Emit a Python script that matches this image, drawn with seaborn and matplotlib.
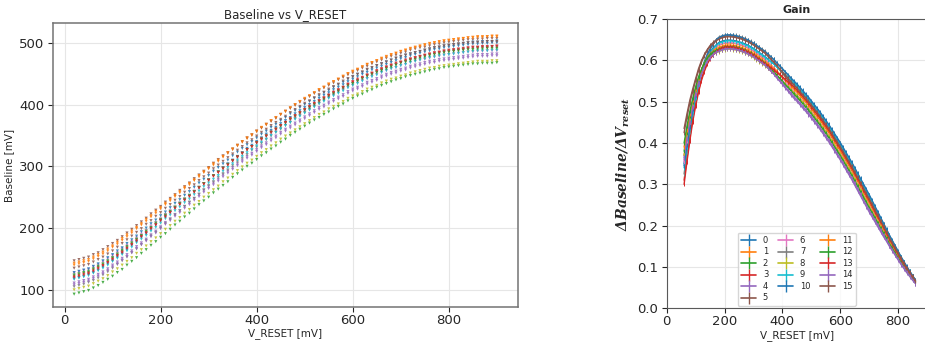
import numpy as np
import pandas as pd
import matplotlib
matplotlib.use('Agg')
import matplotlib.pyplot as plt
import seaborn as sns
from matplotlib.lines import Line2D

# V_RESET sweep [mV]
v_reset = np.arange(20, 910, 10)
v_gain = np.arange(60, 870, 10)
channels = [str(i) for i in range(16)]

# baseline [mV] per channel, one value per V_RESET step
base_00 = [118,120,122,125,128,132,137,142,147,153,159,165,172,178,185,191,198,205,212,218,225,232,239,245,252,259,265,272,278,285,291,298,304,310,316,322,329,334,340,346,352,358,363,369,374,379,385,390,395,400,405,410,415,419,424,428,432,437,441,445,449,452,456,459,462,465,468,471,474,476,479,481,483,485,487,489,490,492,493,494,495,496,497,498,498,499,499,500,500]
base_01 = [140,142,144,146,150,154,158,163,169,174,180,186,192,199,205,211,218,224,231,238,244,251,257,264,270,277,283,290,296,302,308,315,321,327,333,339,345,350,356,362,367,373,378,384,389,394,399,404,409,414,419,424,428,433,437,441,445,450,454,457,461,465,468,471,475,478,481,483,486,488,491,493,495,497,499,500,502,503,504,505,506,507,508,509,510,510,510,511,511]
base_02 = [93,95,97,99,103,107,112,117,122,128,133,140,146,152,159,165,172,178,185,191,198,205,211,218,224,231,238,244,250,257,263,269,275,282,288,294,300,305,311,317,322,328,333,339,344,350,355,360,365,370,375,379,384,388,393,397,401,406,410,414,417,421,424,428,431,434,437,440,442,445,447,449,451,453,455,457,458,460,461,462,463,464,465,466,466,467,467,467,468]
base_03 = [122,124,126,128,132,136,140,145,151,156,162,168,174,181,187,193,200,206,213,220,226,233,239,246,252,259,265,272,278,284,290,297,303,309,315,321,327,332,338,344,349,355,360,366,371,376,381,386,391,396,401,406,410,415,419,423,427,432,436,439,443,447,450,453,457,460,463,465,468,470,473,475,477,479,481,482,484,485,486,487,488,489,490,491,492,492,492,493,493]
base_04 = [111,113,115,117,121,125,129,134,140,145,151,157,163,170,176,182,189,195,202,209,215,222,228,235,241,248,254,261,267,273,279,286,292,298,304,310,316,321,327,333,338,344,349,355,360,365,370,375,380,385,390,395,399,404,408,412,416,421,425,428,432,436,439,442,446,449,452,454,457,459,462,464,466,468,470,471,473,474,475,476,477,478,479,480,481,481,481,482,482]
base_05 = [147,149,151,153,157,160,165,170,175,180,186,192,198,204,210,216,223,229,235,242,248,254,261,267,273,280,286,292,298,305,311,317,322,328,334,340,346,351,357,362,368,373,378,384,389,394,399,404,408,413,418,422,427,431,435,440,444,448,451,455,459,462,466,469,472,475,478,480,483,485,488,490,492,493,495,497,498,500,501,502,503,504,505,505,506,506,507,507,507]
base_06 = [127,129,131,133,137,140,145,150,155,160,166,172,178,184,190,196,203,209,215,222,228,234,241,247,253,260,266,272,278,285,291,297,302,308,314,320,326,331,337,342,348,353,358,364,369,374,379,384,388,393,398,402,407,411,415,420,424,428,431,435,439,442,446,449,452,455,458,460,463,465,468,470,472,473,475,477,478,480,481,482,483,484,485,485,486,486,487,487,487]
base_07 = [105,107,109,112,115,119,124,129,135,141,147,153,160,166,173,180,187,193,200,207,214,221,228,235,242,248,255,262,269,275,282,288,294,301,307,313,319,326,331,337,343,349,355,360,366,371,377,382,387,392,397,402,407,412,416,421,425,430,434,438,442,446,449,453,456,459,462,465,468,470,473,475,477,479,481,483,484,486,487,488,489,490,491,492,492,493,493,494,494]
base_08 = [100,102,104,106,110,114,118,123,129,134,140,146,152,159,165,171,178,184,191,198,204,211,217,224,230,237,243,250,256,262,268,275,281,287,293,299,305,310,316,322,327,333,338,344,349,354,359,364,369,374,379,384,388,393,397,401,405,410,414,417,421,425,428,431,435,438,441,443,446,448,451,453,455,457,459,460,462,463,464,465,466,467,468,469,470,470,470,471,471]
base_09 = [117,119,121,123,127,131,135,140,146,151,157,163,169,176,182,188,195,201,208,215,221,228,234,241,247,254,260,267,273,279,285,292,298,304,310,316,322,327,333,339,344,350,355,361,366,371,376,381,386,391,396,401,405,410,414,418,422,427,431,434,438,442,445,448,452,455,458,460,463,465,468,470,472,474,476,477,479,480,481,482,483,484,485,486,487,487,487,488,488]
base_10 = [128,130,132,134,138,142,147,152,157,163,168,175,181,187,194,200,207,213,220,226,233,240,246,253,259,266,273,279,285,292,298,304,310,317,323,329,335,340,346,352,357,363,368,374,379,385,390,395,400,405,410,414,419,423,428,432,436,441,445,449,452,456,459,463,466,469,472,475,477,480,482,484,486,488,490,492,493,495,496,497,498,499,500,501,501,502,502,502,503]
base_11 = [143,145,147,149,153,157,161,166,171,177,183,189,195,201,207,214,220,227,233,240,246,253,259,266,272,278,285,291,297,304,310,316,322,328,334,340,346,351,357,363,368,374,379,384,389,395,400,405,410,414,419,424,428,433,437,441,446,450,453,457,461,465,468,471,474,477,480,483,486,488,490,492,494,496,498,500,501,503,504,505,506,507,508,508,509,509,510,510,510]
base_12 = [124,126,128,130,134,138,142,147,152,158,164,170,176,182,188,195,201,208,214,221,227,234,240,247,253,259,266,272,278,285,291,297,303,309,315,321,327,332,338,344,349,355,360,365,370,376,381,386,391,395,400,405,409,414,418,422,427,431,434,438,442,446,449,452,455,458,461,464,467,469,471,473,475,477,479,481,482,484,485,486,487,488,489,489,490,490,491,491,491]
base_13 = [120,122,124,126,130,134,139,144,149,155,160,167,173,179,186,192,199,205,212,218,225,232,238,245,251,258,265,271,277,284,290,296,302,309,315,321,327,332,338,344,349,355,360,366,371,377,382,387,392,397,402,406,411,415,420,424,428,433,437,441,444,448,451,455,458,461,464,467,469,472,474,476,478,480,482,484,485,487,488,489,490,491,492,493,493,494,494,494,495]
base_14 = [108,110,112,114,118,122,126,131,137,142,148,154,160,167,173,179,186,192,199,206,212,219,225,232,238,245,251,258,264,270,276,283,289,295,301,307,313,318,324,330,335,341,346,352,357,362,367,372,377,382,387,392,396,401,405,409,413,418,422,425,429,433,436,439,443,446,449,451,454,456,459,461,463,465,467,468,470,471,472,473,474,475,476,477,478,478,478,479,479]
base_15 = [135,137,139,141,145,149,153,158,163,169,175,181,187,193,199,206,212,219,225,232,238,245,251,258,264,270,277,283,289,296,302,308,314,320,326,332,338,343,349,355,360,366,371,376,381,387,392,397,402,406,411,416,420,425,429,433,438,442,445,449,453,457,460,463,466,469,472,475,478,480,482,484,486,488,490,492,493,495,496,497,498,499,500,500,501,501,502,502,502]

# gain dBaseline/dV_reset per channel, in 1/1000, one value per step from 60 to 860 mV
gain_00 = [350,399,443,483,516,547,572,592,608,620,630,637,643,646,648,649,649,648,647,645,643,640,637,633,629,624,619,614,609,603,597,592,585,578,571,564,558,551,544,537,529,521,513,505,496,487,478,469,459,449,439,428,417,406,395,383,371,359,347,334,321,308,295,282,269,255,242,228,214,201,187,173,160,148,135,122,111,99,88,78,67]
gain_01 = [370,415,457,493,524,552,574,593,607,618,625,632,636,639,641,642,642,641,640,638,636,633,630,626,622,617,612,607,602,595,589,582,575,567,560,552,545,537,530,523,515,507,499,491,482,473,464,455,445,435,425,414,403,392,381,369,357,345,333,320,307,294,281,268,255,242,229,216,203,190,177,164,152,140,128,116,105,94,84,74,64]
gain_02 = [380,424,462,497,527,552,573,589,601,611,617,622,625,628,630,631,631,630,629,627,625,622,619,615,611,606,601,596,591,585,578,572,564,557,550,542,535,527,520,513,505,497,489,481,472,463,454,445,435,425,415,404,393,382,371,359,347,335,323,310,297,284,271,258,245,232,220,207,195,182,170,157,146,134,123,111,101,90,81,71,62]
gain_03 = [310,364,414,459,495,528,555,576,594,606,615,622,628,631,633,634,634,633,632,630,628,625,622,618,614,609,604,599,594,589,583,578,571,565,559,552,546,539,533,526,518,510,502,494,485,476,467,458,448,438,428,417,406,395,384,372,360,348,336,323,310,297,284,271,258,245,232,219,205,192,179,166,154,142,130,117,106,95,85,75,65]
gain_04 = [360,406,448,485,516,544,566,584,598,607,614,620,623,626,628,629,629,628,627,625,623,620,617,613,609,604,599,594,589,582,574,567,558,550,542,533,525,516,508,501,493,485,477,469,460,451,442,433,423,413,403,392,381,370,359,347,335,323,311,298,285,272,259,246,233,221,209,197,185,173,162,150,139,128,117,106,96,86,77,68,60]
gain_05 = [435,471,504,531,556,580,599,614,626,636,643,649,653,656,658,659,659,658,657,655,653,650,647,643,639,634,629,624,619,611,603,596,587,578,569,560,552,543,534,527,519,511,503,495,486,477,468,459,449,439,429,418,407,396,385,373,361,349,337,324,311,298,285,272,259,246,233,219,206,193,180,167,154,142,130,118,107,95,85,75,65]
gain_06 = [355,402,446,485,517,547,570,590,606,616,625,632,637,640,642,643,643,642,641,639,637,634,631,627,623,618,613,608,603,596,589,581,573,565,557,549,540,532,524,517,509,501,493,485,476,467,458,449,439,429,419,408,397,386,375,363,351,339,327,314,301,288,275,262,249,236,224,211,198,185,173,160,148,137,125,113,103,92,82,72,63]
gain_07 = [325,378,427,471,508,542,570,594,613,627,638,649,656,659,661,662,662,661,660,658,656,653,650,646,642,637,632,627,622,615,609,602,594,587,579,571,563,556,548,541,533,525,517,509,500,491,482,473,463,453,443,432,421,410,399,387,375,363,351,338,325,312,299,286,273,259,245,231,217,204,190,176,163,150,137,124,112,100,89,79,68]
gain_08 = [370,414,455,490,521,547,568,585,598,607,613,618,621,624,626,627,627,626,625,623,621,618,615,611,607,602,597,592,587,581,575,570,563,556,549,542,536,529,522,515,507,499,491,483,474,465,456,447,437,427,417,406,395,384,373,361,349,337,325,312,299,286,273,260,247,234,222,209,197,184,171,159,147,136,124,112,102,91,82,72,62]
gain_09 = [340,390,436,477,511,542,568,589,606,618,627,635,641,644,646,647,647,646,645,643,641,638,635,631,627,622,617,612,607,602,596,591,584,578,572,565,559,552,546,539,531,523,515,507,498,489,480,471,461,451,441,430,419,408,397,385,373,361,349,336,323,310,297,284,271,257,243,230,216,202,188,174,162,149,136,123,111,100,89,78,67]
gain_10 = [345,395,440,482,517,548,575,597,614,628,638,648,655,658,660,661,661,660,659,657,655,652,649,645,641,636,631,626,621,615,608,602,594,587,580,572,565,557,550,543,535,527,519,511,502,493,484,475,465,455,445,434,423,412,401,389,377,365,353,340,327,314,301,288,275,261,247,233,219,205,191,177,164,151,138,125,113,101,90,79,68]
gain_11 = [390,432,470,503,532,557,577,594,607,616,622,628,631,634,636,637,637,636,635,633,631,628,625,621,617,612,607,602,597,591,585,580,573,566,559,552,546,539,532,525,517,509,501,493,484,475,466,457,447,437,427,416,405,394,383,371,359,347,335,322,309,296,283,270,257,244,231,218,205,192,178,165,153,141,129,117,106,95,85,75,64]
gain_12 = [400,441,477,508,536,560,578,594,606,614,620,624,627,630,632,633,633,632,631,629,627,624,621,617,613,608,603,598,593,586,579,573,565,557,549,541,534,526,518,511,503,495,487,479,470,461,452,443,433,423,413,402,391,380,369,357,345,333,321,308,295,282,269,256,243,231,218,206,193,181,169,156,145,133,122,111,100,90,80,71,62]
gain_13 = [300,355,406,452,490,523,551,573,591,603,613,620,626,629,631,632,632,631,630,628,626,623,620,616,612,607,602,597,592,587,582,577,571,566,560,554,548,542,536,529,521,513,505,497,488,479,470,461,451,441,431,420,409,398,387,375,363,351,339,326,313,300,287,274,261,248,234,221,208,195,181,168,156,143,131,119,107,96,86,76,65]
gain_14 = [365,411,451,488,519,545,567,584,598,607,614,619,622,625,627,628,628,627,626,624,622,619,616,612,608,603,598,593,588,581,574,567,559,551,544,536,528,520,512,505,497,489,481,473,464,455,446,437,427,417,407,396,385,374,363,351,339,327,315,302,289,276,263,250,237,225,213,201,189,176,164,152,141,130,119,108,98,88,79,69,60]
gain_15 = [425,463,497,525,552,575,595,611,624,634,640,647,651,654,656,657,657,656,655,653,651,648,645,641,637,632,627,622,617,610,603,596,588,580,572,564,556,548,540,533,525,517,509,501,492,483,474,465,455,445,435,424,413,402,391,379,367,355,343,330,317,304,291,278,265,252,238,225,211,198,184,171,158,146,133,121,109,98,87,77,66]

gain_err = 0.005

baseline = [base_00, base_01, base_02, base_03, base_04, base_05, base_06, base_07,
            base_08, base_09, base_10, base_11, base_12, base_13, base_14, base_15]
gain = [gain_00, gain_01, gain_02, gain_03, gain_04, gain_05, gain_06, gain_07,
        gain_08, gain_09, gain_10, gain_11, gain_12, gain_13, gain_14, gain_15]

df_base = pd.concat([pd.DataFrame({'v_reset': v_reset, 'baseline': b, 'channel': ch})
                     for ch, b in zip(channels, baseline)], ignore_index=True)
df_gain = pd.concat([pd.DataFrame({'v_reset': v_gain, 'gain': np.array(g) / 1000, 'channel': ch})
                     for ch, g in zip(channels, gain)], ignore_index=True)

sns.set_style('whitegrid', {'axes.edgecolor': '0.35', 'grid.color': '0.9',
                            'xtick.bottom': True, 'ytick.left': True})
plt.rcParams['font.family'] = ['DejaVu Sans']
plt.rcParams['xtick.major.size'] = 3.5
plt.rcParams['ytick.major.size'] = 3.5
plt.rcParams['xtick.major.pad'] = 1.5
plt.rcParams['ytick.major.pad'] = 2.5
plt.rcParams['xtick.color'] = '0.15'
plt.rcParams['ytick.color'] = '0.15'

pal = sns.color_palette('tab10', 10)
pal16 = pal + pal[:6]

fig = plt.figure(figsize=(9.25, 3.45), dpi=100)
ax1 = fig.add_axes([0.0573, 0.110, 0.5027, 0.823])
ax2 = fig.add_axes([0.7208, 0.1064, 0.2814, 0.8385])

# left: baseline vs V_RESET
sns.scatterplot(data=df_base, x='v_reset', y='baseline', hue='channel', hue_order=channels,
                palette=pal16, marker='v', s=5, linewidth=0, alpha=0.85, legend=False, ax=ax1)
ax1.set_title('Baseline vs V_RESET', fontsize=8.5, pad=4)
ax1.set_xlabel('V_RESET [mV]', fontsize=7.5, labelpad=1)
ax1.set_ylabel('Baseline [mV]', fontsize=7.5, labelpad=4)
ax1.tick_params(labelsize=9.5)
ax1.set_xticks([0, 200, 400, 600, 800])
ax1.set_yticks([100, 200, 300, 400, 500])
for sp in ax1.spines.values():
    sp.set_color('0.45')
    sp.set_linewidth(1.1)

# right: gain
sns.lineplot(data=df_gain, x='v_reset', y='gain', hue='channel', hue_order=channels,
             palette=pal16, linewidth=1.0, legend=False, ax=ax2)
for ch, g, c in zip(channels, gain, pal16):
    ax2.errorbar(v_gain, np.array(g) / 1000, yerr=gain_err, fmt='none', ecolor=c, elinewidth=0.7)
ax2.set_xlim(0, 900)
ax2.set_ylim(0, 0.7)
ax2.set_xticks([0, 200, 400, 600, 800])
ax2.set_title('Gain', fontsize=8, fontweight='bold', pad=4)
ax2.set_xlabel('V_RESET [mV]', fontsize=7.5, labelpad=1)
ax2.set_ylabel(r'$\mathbfit{\Delta Baseline/\Delta V_{reset}}$', fontsize=10,
               math_fontfamily='dejavuserif')
ax2.tick_params(labelsize=9.5)

handles = [Line2D([], [], color=c, marker='|', markersize=8, markeredgewidth=1.0, linewidth=1.2)
           for c in pal16]
ax2.legend(handles, channels, ncol=3, loc='lower center', fontsize=6, frameon=True,
           handlelength=1.8, columnspacing=1.2, labelspacing=0.3, borderaxespad=0.3)

fig.savefig('out.png', dpi=100)
